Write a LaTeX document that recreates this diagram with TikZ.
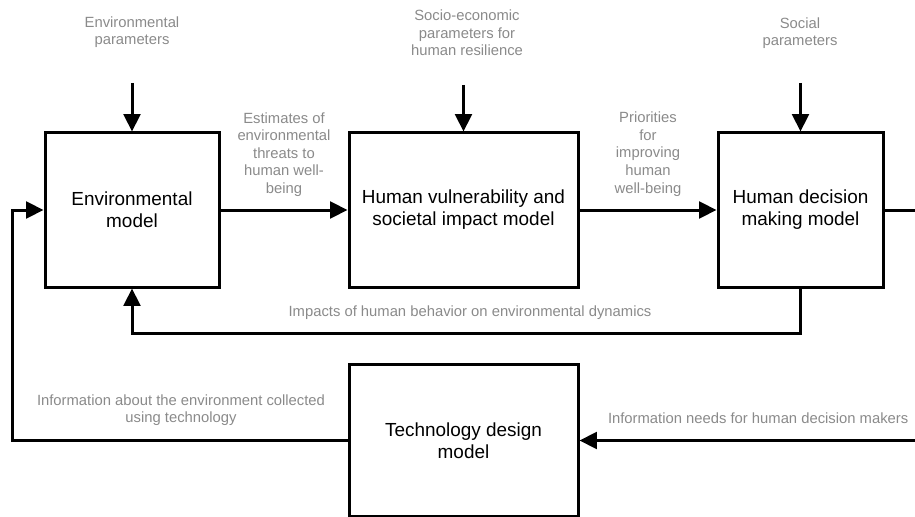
\documentclass[tikz,border=0pt]{standalone}
\usepackage{fontspec}
\setmainfont{Liberation Sans}
\usetikzlibrary{arrows.meta}
\definecolor{labelgray}{RGB}{138,138,138}
\tikzset{
  model/.style={draw,line width=2.25pt,align=center,font=\fontsize{14.2}{16.5}\selectfont},
  flow/.style={line width=2.25pt,-{Triangle[length=13pt,width=12.5pt]}},
  link/.style={line width=2.25pt},
  note/.style={text=labelgray,align=center,font=\fontsize{11.1}{13.2}\selectfont},
}

\begin{document}
\begin{tikzpicture}[x=0.75pt,y=-0.75pt]
  \useasboundingbox (0,0) rectangle (915,517);
  \clip (0,0) rectangle (915,517);

  \node (env) at (132,210) [model,minimum width=130.5pt,minimum height=115.5pt] {Environmental\\model};
  \node (hv) at (463.5,210) [model,minimum width=171.75pt,minimum height=115.5pt] {Human vulnerability and\\societal impact model};
  \node (dec) at (800.5,210) [model,minimum width=123.75pt,minimum height=115.5pt] {Human decision\\making model};
  \node (tech) at (463.5,440.5) [model,minimum width=171.75pt,minimum height=114pt] {Technology design\\model};

  \node (envpar) at (132,32) [note] {Environmental\\parameters};
  \node (socpar) at (467,33) [note] {Socio-economic\\parameters for\\human resilience};
  \node (socialpar) at (800,33) [note] {Social\\parameters};
  \node (threats) at (284,154.5) [note] {Estimates of\\environmental\\threats to\\human well-\\being};
  \node (prio) at (648,154) [note] {Priorities\\for\\improving\\human\\well-being};
  \node (impacts) at (470,313) [note] {Impacts of human behavior on environmental dynamics};
  \node (infoenv) at (181,410) [note] {Information about the environment collected\\using technology};
  \node (infoneeds) at (913,418) [note,anchor=east] {Information needs for human decision makers};

  \coordinate (envIn) at (132,83);
  \coordinate (hvIn) at (463.5,85);
  \coordinate (decIn) at (800.5,83);
  \coordinate (decOut) at (916,210);
  \coordinate (techIn) at (916,440.5);

  % inputs from above
  \draw[flow] (envIn) -- (env.north);
  \draw[flow] (hvIn) -- (hv.north);
  \draw[flow] (decIn) -- (dec.north);

  % main chain
  \draw[flow] (env.east) -- (hv.west);
  \draw[flow] (hv.east) -- (dec.west);
  \draw[link] (dec.east) -- (decOut);

  % feedback loops
  \draw[flow] (dec.south) -- ++(0,45) -| (env.south);
  \draw[flow] (techIn) -- (tech.east);
  \draw[flow] (tech.west) -- ++(-335,0) |- (env.west);
\end{tikzpicture}
\end{document}
